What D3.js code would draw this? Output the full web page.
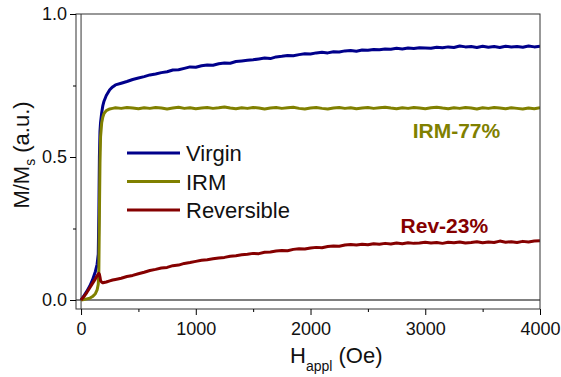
<!DOCTYPE html>
<html>
<head>
<meta charset="utf-8">
<script src="https://cdn.jsdelivr.net/npm/d3@7"></script>
<style>
  body { margin: 0; background: #fff; }
  svg { font-family: "Liberation Sans", Arial, sans-serif; }
</style>
</head>
<body>
<svg id="chart" width="561" height="377"></svg>
<script>
// Field values (Oe): dense around the switching field, then every 50 Oe
const fieldEarly = [0, 25, 50, 75, 100, 125, 140, 150, 155, 160, 165, 170, 180, 190, 200, 220, 250, 275];
const fieldLate = [];
for (let h = 300; h <= 4000; h += 50) fieldLate.push(h);
const field = fieldEarly.concat(fieldLate);

const virgin = [
  0, .015, .03, .048, .07, .10, .125, .16, .30, .50, .59, .62, .655, .68, .695, .715, .735, .745,
  .752, .758, .764, .771, .776, .781, .787, .790, .795, .798, .804, .805, .810, .815,
  .814, .819, .822, .821, .826, .829, .828, .834, .836, .838, .840, .843, .846, .844, .850, .852, .855, .854, .858, .861,
  .860, .864, .866, .864, .868, .867, .871, .872, .870, .874, .873, .876, .875, .878, .877, .880, .878, .881, .879, .882,
  .881, .880, .884, .882, .885, .883, .888, .885, .886, .883, .887, .884, .886, .883, .887, .885, .886, .884, .888, .885,
  .887
];
const irm = [
  0, .002, .004, .006, .012, .022, .035, .055, .10, .30, .48, .57, .62, .64, .652, .662, .668, .670,
  .672, .670, .673, .671, .669, .672, .670, .673, .671, .668, .671, .674, .670, .672,
  .669, .671, .673, .670, .672, .675, .671, .669, .672, .670, .673, .671, .668, .671, .673, .670, .672, .674, .670, .668,
  .671, .673, .670, .668, .671, .673, .670, .672, .669, .671, .673, .670, .672, .674, .671, .669, .672, .670, .673, .671,
  .669, .672, .674, .671, .669, .672, .670, .673, .671, .668, .672, .670, .673, .671, .669, .672, .670, .668, .671, .669,
  .672
];
const reversible = [
  0, .012, .026, .042, .058, .074, .085, .09, .093, .09, .08, .068, .062, .06, .061, .063, .067, .070,
  .072, .076, .082, .086, .092, .097, .103, .107, .112, .114, .120, .122, .128, .131,
  .135, .139, .141, .144, .147, .149, .153, .155, .158, .160, .163, .162, .167, .168, .171, .173, .172, .177, .179, .178,
  .182, .184, .183, .187, .189, .188, .192, .194, .192, .195, .193, .197, .195, .198, .196, .199, .197, .200, .198, .199,
  .202, .199, .201, .198, .202, .200, .203, .199, .201, .204, .200, .203, .201, .206, .202, .204, .201, .205, .203, .206,
  .207
];

const seriesNames = ['Virgin', 'IRM', 'Reversible'];
const seriesColors = ['#00008b', '#808000', '#850000'];
const seriesValues = [virgin, irm, reversible];

const xMajorTicks = [0, 1000, 2000, 3000, 4000];
const xMinorTicks = [500, 1500, 2500, 3500];
const yMajorTicks = [0, 0.5, 1.0];
const yMinorTicks = [0.25, 0.75];

const notes = [
  { text: 'IRM-77%', h: 2890, v: 0.568, color: '#808000' },
  { text: 'Rev-23%', h: 2785, v: 0.236, color: '#850000' }
];

const FONT = '"Liberation Sans", Arial, sans-serif';
const svg = d3.select('#chart');
const frame = { left: 76, right: 540, top: 14, bottom: 309 };

const x = d3.scaleLinear().domain([-44, 4000]).range([frame.left, frame.right]);
const y = d3.scaleLinear().domain([0, 1]).range([300, frame.top]);

svg.append('defs').append('clipPath').attr('id', 'plot-clip')
  .append('rect').attr('x', frame.left).attr('y', frame.top)
  .attr('width', frame.right - frame.left).attr('height', frame.bottom - frame.top);

// zero lines
svg.append('line')
  .attr('x1', frame.left).attr('x2', frame.right).attr('y1', y(0)).attr('y2', y(0))
  .attr('stroke', '#000').attr('stroke-width', 1);
svg.append('line')
  .attr('x1', x(0)).attr('x2', x(0)).attr('y1', frame.top).attr('y2', frame.bottom)
  .attr('stroke', '#333').attr('stroke-width', 1);

// curves
const line = d3.line().x((d, i) => x(field[i])).y(d => y(d));
const plot = svg.append('g').attr('clip-path', 'url(#plot-clip)');
seriesValues.forEach((vals, k) => {
  plot.append('path')
    .datum(vals)
    .attr('d', line)
    .attr('fill', 'none')
    .attr('stroke', seriesColors[k])
    .attr('stroke-width', 3)
    .attr('stroke-linejoin', 'round');
});

// frame
svg.append('rect')
  .attr('x', frame.left).attr('y', frame.top)
  .attr('width', frame.right - frame.left).attr('height', frame.bottom - frame.top)
  .attr('fill', 'none').attr('stroke', '#333').attr('stroke-width', 1);

// axes
const styleAxis = g => {
  g.select('.domain').remove();
  g.selectAll('line').attr('stroke', '#000');
  g.selectAll('text').attr('font-size', 18).attr('fill', '#111').attr('font-family', FONT);
};

svg.append('g').attr('transform', `translate(0,${frame.bottom})`)
  .call(d3.axisBottom(x).tickValues(xMajorTicks).tickFormat(d3.format('d')).tickSize(6).tickPadding(7))
  .call(styleAxis);
svg.append('g').attr('transform', `translate(0,${frame.bottom})`)
  .call(d3.axisBottom(x).tickValues(xMinorTicks).tickFormat('').tickSize(3))
  .call(styleAxis);

svg.append('g').attr('transform', `translate(${frame.left},0)`)
  .call(d3.axisLeft(y).tickValues(yMajorTicks).tickFormat(d3.format('.1f')).tickSize(6).tickPadding(3))
  .call(styleAxis);
svg.append('g').attr('transform', `translate(${frame.left},0)`)
  .call(d3.axisLeft(y).tickValues(yMinorTicks).tickFormat('').tickSize(3))
  .call(styleAxis);

// axis titles
const xt = svg.append('text')
  .attr('x', 290).attr('y', 363)
  .attr('font-family', FONT).attr('font-size', 22).attr('fill', '#111');
xt.append('tspan').text('H');
xt.append('tspan').attr('font-size', 14).attr('dy', 8).text('appl');
xt.append('tspan').attr('dy', -8).text(' (Oe)');

const yt = svg.append('text')
  .attr('transform', 'translate(29,155) rotate(-90)')
  .attr('text-anchor', 'middle')
  .attr('font-family', FONT).attr('font-size', 22).attr('fill', '#111');
yt.append('tspan').text('M/M');
yt.append('tspan').attr('font-size', 14).attr('dy', 6).text('s');
yt.append('tspan').attr('dy', -6).text(' (a.u.)');

// legend
const legend = svg.append('g').attr('transform', 'translate(127,153)');
seriesNames.forEach((name, k) => {
  const g = legend.append('g').attr('transform', `translate(0,${k * 28.5})`);
  g.append('line').attr('x1', 0).attr('x2', 53)
    .attr('stroke', seriesColors[k]).attr('stroke-width', 3);
  g.append('text').attr('x', 59).attr('y', 8)
    .attr('font-family', FONT).attr('font-size', 22).attr('fill', '#111').text(name);
});

// annotations
notes.forEach(n => {
  svg.append('text')
    .attr('x', x(n.h)).attr('y', y(n.v))
    .attr('font-family', FONT).attr('font-size', 21).attr('font-weight', 'bold')
    .attr('fill', n.color).text(n.text);
});
</script>
</body>
</html>
